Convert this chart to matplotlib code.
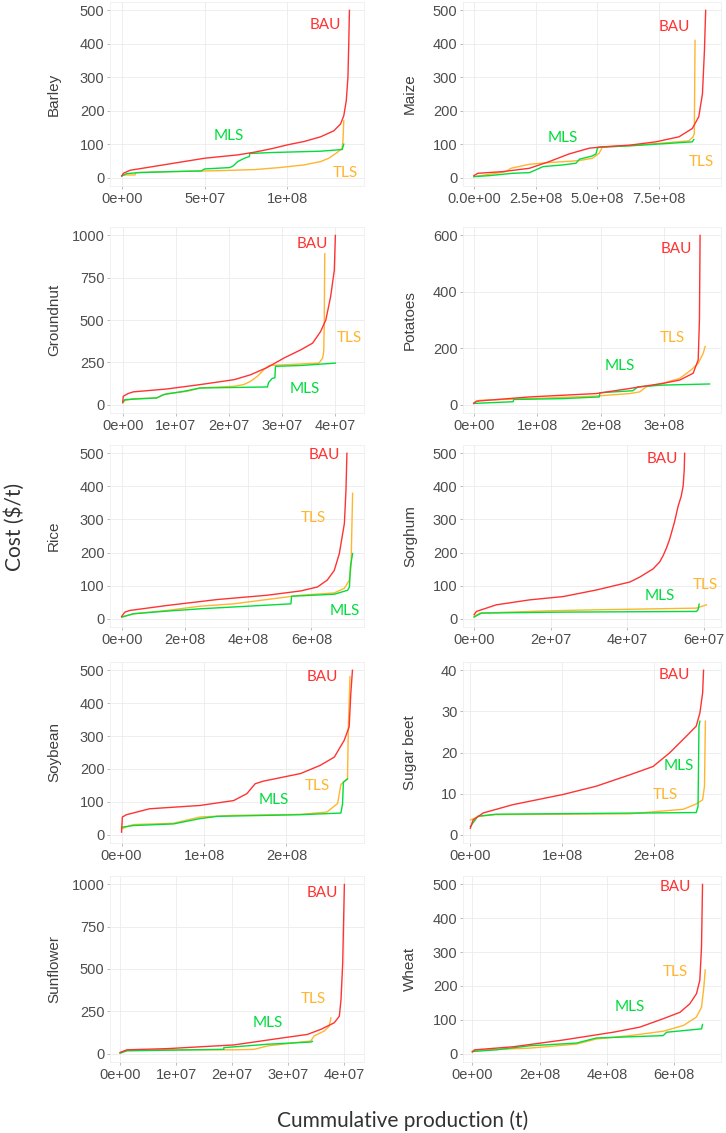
import matplotlib
matplotlib.use("Agg")
import matplotlib.pyplot as plt
from matplotlib.ticker import FixedLocator, FuncFormatter

# cumulative production in Mt (x) and cost in $/t (y)
barley_bau_x = [0, 1, 5, 15, 30, 50, 70, 80, 90, 100, 110, 120, 128, 132, 134, 135.5, 136.5, 137, 137.4]
barley_bau_y = [5, 13, 22, 30, 42, 58, 68, 76, 86, 98, 108, 122, 140, 160, 185, 230, 300, 400, 500]
barley_mls_x = [0, 3, 10, 30, 48, 50, 65, 67, 70, 74, 77, 77.2, 90, 120, 133, 134]
barley_mls_y = [5, 12, 15, 18, 20, 26, 30, 34, 48, 58, 63, 72, 75, 79, 84, 100]
barley_tls_x = [0, 1, 8, 8.5, 20, 40, 60, 80, 95, 110, 120, 125, 130, 133, 133.5, 134]
barley_tls_y = [5, 8, 8, 15, 17, 19, 21, 24, 30, 38, 48, 58, 75, 88, 110, 170]

maize_bau_x = [0, 16, 117, 225, 305, 386, 467, 520, 630, 736, 830, 884, 910, 925, 933, 938]
maize_bau_y = [6, 13, 18, 28, 48, 71, 88, 92, 97, 107, 122, 147, 182, 251, 380, 500]
maize_mls_x = [0, 63, 157, 225, 250, 280, 360, 413, 427, 480, 494, 500, 507, 630, 760, 884, 890]
maize_mls_y = [3, 6, 13, 15, 23, 33, 38, 43, 55, 65, 71, 88, 91, 95, 101, 107, 114]
maize_tls_x = [0, 90, 130, 150, 225, 305, 427, 480, 507, 520, 630, 760, 870, 887, 892, 895]
maize_tls_y = [3, 13, 18, 28, 40, 45, 51, 58, 73, 91, 96, 103, 110, 122, 132, 410]

groundnut_bau_x = [0, 0.1, 1, 2, 8.3, 14.6, 21, 24.1, 27.3, 30.4, 33.6, 35.8, 37.3, 38.3, 39.2, 39.9, 40.1]
groundnut_bau_y = [14, 49, 65, 75, 92, 118, 147, 176, 220, 275, 324, 363, 431, 500, 637, 794, 1000]
groundnut_mls_x = [0, 0.4, 6.4, 7.7, 11.5, 14.6, 27.3, 27.5, 28.2, 28.7, 28.8, 33.6, 40.1]
groundnut_mls_y = [10, 29, 39, 59, 78, 98, 104, 130, 155, 158, 226, 231, 245]
groundnut_tls_x = [0, 2, 6.4, 8.3, 12.1, 14.6, 21, 22.8, 24.1, 25.4, 26.6, 27.6, 30.4, 37, 37.7, 37.9, 38, 38.1]
groundnut_tls_y = [20, 35, 39, 65, 78, 98, 108, 118, 137, 167, 206, 231, 235, 245, 275, 314, 461, 892]

potatoes_bau_x = [0, 4, 88, 193, 246, 298, 325, 346, 354, 356, 357]
potatoes_bau_y = [4, 12, 27, 39, 57, 75, 87, 111, 158, 301, 600]
potatoes_mls_x = [0, 62, 63, 140, 198, 199, 251, 259, 298, 372]
potatoes_mls_y = [4, 10, 18, 21, 27, 42, 49, 63, 69, 73]
potatoes_tls_x = [0, 9, 88, 193, 246, 262, 272, 298, 325, 343, 354, 362, 365]
potatoes_tls_y = [6, 15, 21, 30, 39, 45, 63, 75, 93, 123, 146, 182, 206]

rice_bau_x = [0, 10, 26, 143, 302, 460, 566, 619, 650, 672, 688, 704, 709, 712]
rice_bau_y = [7, 20, 25, 40, 58, 71, 84, 96, 117, 146, 197, 288, 389, 500]
rice_mls_x = [0, 37, 143, 249, 535, 537, 672, 714, 720, 723, 730]
rice_mls_y = [5, 15, 23, 30, 45, 68, 74, 86, 96, 157, 197]
rice_tls_x = [0, 37, 143, 249, 354, 524, 566, 672, 704, 720, 725, 730]
rice_tls_y = [5, 15, 25, 38, 45, 66, 71, 78, 92, 117, 157, 379]

sorghum_bau_x = [0, 0.6, 5.8, 14.5, 23.3, 32, 40.7, 43.3, 46.8, 48.5, 49.4, 50.3, 51.1, 52.3, 53.3, 54.1, 54.6, 54.9, 55]
sorghum_bau_y = [12, 22, 42, 57, 67, 87, 111, 126, 151, 172, 191, 215, 241, 290, 340, 370, 400, 450, 500]
sorghum_mls_x = [0, 1.9, 23.3, 58.1, 58.5, 58.8]
sorghum_mls_y = [5, 17, 20, 22, 27, 44]
sorghum_tls_x = [0, 1.5, 19.8, 32, 58.1, 60.7]
sorghum_tls_y = [7, 17, 24, 27, 32, 42]

soybean_bau_x = [0, 1, 6, 34, 95, 136, 152, 162, 172, 217, 241, 258, 270, 276, 278, 280]
soybean_bau_y = [8, 54, 61, 79, 89, 104, 125, 155, 163, 186, 211, 236, 287, 328, 429, 500]
soybean_mls_x = [0, 14, 63, 95, 116, 217, 266, 268, 269, 274]
soybean_mls_y = [23, 28, 33, 49, 56, 61, 66, 94, 160, 170]
soybean_tls_x = [0, 14, 63, 95, 136, 217, 249, 262, 266, 274, 275, 277]
soybean_tls_y = [18, 31, 35, 54, 59, 62, 69, 95, 153, 170, 328, 480]

sugarbeet_bau_x = [0, 3, 14, 46, 101, 137, 174, 199, 217, 235, 246, 250, 253, 254]
sugarbeet_bau_y = [1.6, 3.6, 5.3, 7.3, 9.8, 11.8, 14.6, 16.6, 19.9, 23.9, 26.4, 29.6, 34.5, 40]
sugarbeet_mls_x = [0, 8, 28, 246, 248, 249, 250]
sugarbeet_mls_y = [2, 4.5, 5, 5.4, 6.9, 26.4, 27.6]
sugarbeet_tls_x = [0, 10, 28, 174, 232, 246, 253, 255, 256]
sugarbeet_tls_y = [3.6, 4.5, 4.9, 5.1, 6.2, 7.5, 8.5, 11.8, 27.6]

sunflower_bau_x = [0, 1.2, 8.4, 20.3, 29.3, 33.4, 35.8, 38.2, 39.1, 39.4, 39.7, 40]
sunflower_bau_y = [6, 22, 29, 51, 94, 113, 143, 182, 221, 319, 534, 1000]
sunflower_mls_x = [0, 1.2, 18.5, 18.5, 26.3, 32.2, 34, 34.3]
sunflower_mls_y = [2, 16, 25, 35, 55, 65, 68, 72]
sunflower_tls_x = [0, 1.5, 20.3, 23.9, 26.3, 32.2, 34, 34.6, 36.4, 37.3, 37.6]
sunflower_tls_y = [6, 22, 22, 25, 45, 68, 74, 104, 133, 162, 211]

wheat_bau_x = [0, 7, 121, 270, 419, 498, 568, 618, 647, 667, 677, 682, 685]
wheat_bau_y = [6, 11, 20, 40, 63, 78, 103, 122, 147, 177, 217, 316, 500]
wheat_mls_x = [0, 72, 171, 310, 369, 568, 578, 682, 685]
wheat_mls_y = [6, 11, 23, 31, 46, 53, 63, 73, 86]
wheat_tls_x = [0, 7, 171, 310, 369, 469, 568, 628, 667, 682, 689, 693]
wheat_tls_y = [3, 10, 16, 28, 43, 53, 66, 83, 108, 137, 197, 247]

crops = ["Barley", "Maize", "Groundnut", "Potatoes", "Rice",
         "Sorghum", "Soybean", "Sugar beet", "Sunflower", "Wheat"]
y_max = [500, 500, 1000, 600, 500, 500, 500, 40, 1000, 500]
y_ticks = [[0, 100, 200, 300, 400, 500], [0, 100, 200, 300, 400, 500],
           [0, 250, 500, 750, 1000], [0, 200, 400, 600],
           [0, 100, 200, 300, 400, 500], [0, 100, 200, 300, 400, 500],
           [0, 100, 200, 300, 400, 500], [0, 10, 20, 30, 40],
           [0, 250, 500, 750, 1000], [0, 100, 200, 300, 400, 500]]
# x ticks in Mt
x_ticks = [[0, 50, 100], [0, 250, 500, 750], [0, 10, 20, 30, 40], [0, 100, 200, 300],
           [0, 200, 400, 600], [0, 20, 40, 60], [0, 100, 200], [0, 100, 200],
           [0, 10, 20, 30, 40], [0, 200, 400, 600]]
x_fmt = ["%.0e", "%.1e", "%.0e", "%.0e", "%.0e", "%.0e", "%.0e", "%.0e", "%.0e", "%.0e"]

series = {
    "Barley": (barley_bau_x, barley_bau_y, barley_mls_x, barley_mls_y, barley_tls_x, barley_tls_y),
    "Maize": (maize_bau_x, maize_bau_y, maize_mls_x, maize_mls_y, maize_tls_x, maize_tls_y),
    "Groundnut": (groundnut_bau_x, groundnut_bau_y, groundnut_mls_x, groundnut_mls_y, groundnut_tls_x, groundnut_tls_y),
    "Potatoes": (potatoes_bau_x, potatoes_bau_y, potatoes_mls_x, potatoes_mls_y, potatoes_tls_x, potatoes_tls_y),
    "Rice": (rice_bau_x, rice_bau_y, rice_mls_x, rice_mls_y, rice_tls_x, rice_tls_y),
    "Sorghum": (sorghum_bau_x, sorghum_bau_y, sorghum_mls_x, sorghum_mls_y, sorghum_tls_x, sorghum_tls_y),
    "Soybean": (soybean_bau_x, soybean_bau_y, soybean_mls_x, soybean_mls_y, soybean_tls_x, soybean_tls_y),
    "Sugar beet": (sugarbeet_bau_x, sugarbeet_bau_y, sugarbeet_mls_x, sugarbeet_mls_y, sugarbeet_tls_x, sugarbeet_tls_y),
    "Sunflower": (sunflower_bau_x, sunflower_bau_y, sunflower_mls_x, sunflower_mls_y, sunflower_tls_x, sunflower_tls_y),
    "Wheat": (wheat_bau_x, wheat_bau_y, wheat_mls_x, wheat_mls_y, wheat_tls_x, wheat_tls_y),
}

# text label positions (x in Mt, y in $/t) for BAU, MLS, TLS
label_pos = {
    "Barley": [(123, 457), (64.6, 124), (135, 13)],
    "Maize": [(813, 450), (360, 117), (922, 46)],
    "Groundnut": [(35.8, 947), (34.3, 92), (42.7, 392)],
    "Potatoes": [(319, 553), (230, 135), (313, 236)],
    "Rice": [(642, 495), (704, 23), (605, 303)],
    "Sorghum": [(49.1, 483), (48.5, 70), (60.5, 103)],
    "Soybean": [(243, 480), (185, 106), (237, 147)],
    "Sugar beet": [(222, 38.9), (227, 16.6), (212, 9.7)],
    "Sunflower": [(36.1, 949), (26.4, 178), (34.4, 325)],
    "Wheat": [(605, 493), (469, 137), (605, 242)],
}

x_lims = [(-7.1, 146.2), (-44, 1000), (-2.4, 45.5), (-17, 390), (-37, 766),
          (-2.9, 64.5), (-14, 294), (-8, 273), (-1.8, 43.5), (-28, 740)]

RED = "#FF3333"
GREEN = "#00DD3C"
ORANGE = "#FFB52E"

W, H = 726, 1133
fig = plt.figure(figsize=(W / 100, H / 100), dpi=100)

cols = [(110, 364), (463, 721)]
rows = [(2, 186), (227, 413), (445, 627), (662, 843), (876, 1062)]

for i, crop in enumerate(crops):
    r, c = divmod(i, 2)
    x0, x1 = cols[c]
    y0, y1 = rows[r]
    ax = fig.add_axes([x0 / W, 1 - y1 / H, (x1 - x0) / W, (y1 - y0) / H])

    bx, by, mx, my, tx, ty = series[crop]
    ax.plot([v * 1e6 for v in tx], ty, color=ORANGE, lw=1.0)
    ax.plot([v * 1e6 for v in mx], my, color=GREEN, lw=1.0)
    ax.plot([v * 1e6 for v in bx], by, color=RED, lw=1.0)

    for name, col, (px, py) in zip(["BAU", "MLS", "TLS"], [RED, GREEN, ORANGE], label_pos[crop]):
        ax.text(px * 1e6, py, name, color=col, fontsize=11, family="Lato",
                ha="center", va="center")

    ax.set_xlim(x_lims[i][0] * 1e6, x_lims[i][1] * 1e6)
    ym = y_max[i]
    ax.set_ylim(-0.05 * ym, 1.05 * ym)
    ax.yaxis.set_major_locator(FixedLocator(y_ticks[i]))
    ax.xaxis.set_major_locator(FixedLocator([v * 1e6 for v in x_ticks[i]]))
    fmt = x_fmt[i]
    ax.xaxis.set_major_formatter(FuncFormatter(lambda v, p, f=fmt: f % v))

    ax.grid(True, color="#EBEBEB", lw=0.6)
    ax.set_axisbelow(True)
    for s in ax.spines.values():
        s.set_color("#EFEFEF")
        s.set_linewidth(0.6)
    ax.tick_params(length=2.5, width=0.6, color="#B0B0B0", labelcolor="#4D4D4D",
                   labelsize=10.5, pad=1.5)
    for lab in ax.get_xticklabels() + ax.get_yticklabels():
        lab.set_family("Liberation Sans")

    ax.set_ylabel(crop, fontsize=11, family="Liberation Sans", color="#404040",
                  va="center")
    lx = 54 if c == 0 else 410
    ax.yaxis.set_label_coords((lx - x0) / (x1 - x0), 0.5)

fig.text(15 / W, 1 - 527 / H, "Cost ($/t)", rotation=90, ha="center", va="center",
         fontsize=15, family="Lato", color="#333333")
fig.text(403 / W, 1 - 1127 / H, "Cummulative production (t)", ha="center", va="baseline",
         fontsize=15, family="Lato", color="#333333")

fig.savefig("out.png", dpi=100)
